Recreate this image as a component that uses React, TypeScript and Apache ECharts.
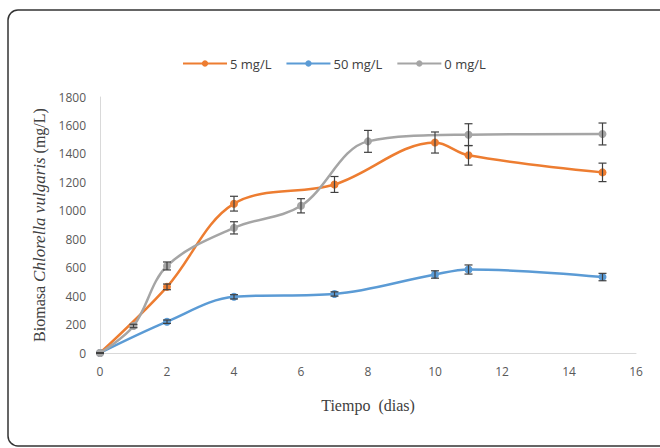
import React, { useEffect, useRef } from "react";
import * as echarts from "echarts";

const seriesNames = ["5 mg/L", "50 mg/L", "0 mg/L"];
const colors = ["#ED7D31", "#5B9BD5", "#A5A5A5"];

const days5 = [0, 2, 4, 7, 10, 11, 15];
const vals5 = [0, 465, 1050, 1185, 1480, 1390, 1270];
const err5 = [0, 20, 52, 56, 74, 69, 65];

const days50 = [0, 2, 4, 7, 10, 11, 15];
const vals50 = [0, 220, 395, 415, 552, 587, 534];
const err50 = [0, 12, 15, 15, 26, 32, 26];

const days0 = [0, 1, 2, 4, 6, 8, 11, 15];
const vals0 = [0, 190, 612, 880, 1035, 1488, 1535, 1540];
const err0 = [0, 12, 28, 43, 50, 77, 77, 77];

const xTicks = [0, 2, 4, 6, 8, 10, 12, 14, 16];
const yTicks = [0, 200, 400, 600, 800, 1000, 1200, 1400, 1600, 1800];

export default function App() {
  const ref = useRef<HTMLDivElement>(null);
  useEffect(() => {
    if (!ref.current) return;
    const chart = echarts.init(ref.current, undefined, { renderer: "svg" });
    const groups = [
      { d: days5, v: vals5, e: err5 },
      { d: days50, v: vals50, e: err50 },
      { d: days0, v: vals0, e: err0 },
    ];
    const lineSeries = groups.map((g, i) => ({
      name: seriesNames[i],
      type: "line",
      smooth: 0.35,
      symbol: "circle",
      symbolSize: 8,
      data: g.d.map((x, k) => [x, g.v[k]]),
      lineStyle: { color: colors[i], width: 2.5 },
      itemStyle: { color: colors[i] },
      z: 3 + i,
    }));
    const errSeries = groups.map((g, i) => ({
      name: seriesNames[i] + " err",
      type: "custom",
      z: 10,
      data: g.d.map((x, k) => [x, g.v[k] - g.e[k], g.v[k] + g.e[k]]),
      renderItem: (params: any, api: any) => {
        const x = api.value(0);
        const lo = api.coord([x, api.value(1)]);
        const hi = api.coord([x, api.value(2)]);
        const w = 4;
        const style = { stroke: "#404040", lineWidth: 1.2 };
        return {
          type: "group",
          children: [
            { type: "line", shape: { x1: lo[0], y1: lo[1], x2: hi[0], y2: hi[1] }, style },
            { type: "line", shape: { x1: lo[0] - w, y1: lo[1], x2: lo[0] + w, y2: lo[1] }, style },
            { type: "line", shape: { x1: hi[0] - w, y1: hi[1], x2: hi[0] + w, y2: hi[1] }, style },
          ],
        };
      },
      silent: true,
    }));
    chart.setOption({
      animation: false,
      backgroundColor: "#ffffff",
      graphic: [
        {
          type: "rect",
          shape: { x: 8, y: 10, width: 664, height: 436, r: 10 },
          style: { fill: "none", stroke: "#333333", lineWidth: 1.5 },
          z: -1,
        },
      ],
      legend: {
        data: seriesNames,
        top: 52,
        left: 177,
        itemWidth: 44,
        itemHeight: 8,
        itemGap: 14,
        textStyle: { fontFamily: "Open Sans", fontSize: 13, color: "#404040", padding: [0, 0, 0, -2] },
      },
      grid: { left: 100, right: 24, top: 97, bottom: 95 },
      xAxis: {
        type: "value",
        min: 0,
        max: 16,
        interval: 2,
        name: "Tiempo  (dias)",
        nameLocation: "middle",
        nameGap: 44,
        nameTextStyle: { fontFamily: "Liberation Serif", fontSize: 16, color: "#404040" },
        axisLine: { show: true, lineStyle: { color: "#D9D9D9", width: 1 } },
        axisTick: { show: false },
        splitLine: { show: false },
        axisLabel: {
          fontFamily: "Open Sans",
          fontSize: 12,
          color: "#595959",
          margin: 12,
          formatter: (v: number) => (xTicks.includes(v) ? String(v) : ""),
        },
      },
      yAxis: {
        type: "value",
        min: 0,
        max: 1800,
        interval: 200,
        name: "{a|Biomasa }{b|Chlorella vulgaris}{a| (mg/L)}",
        nameLocation: "middle",
        nameGap: 52,
        nameTextStyle: {
          rich: {
            a: { fontFamily: "Liberation Serif", fontSize: 16, color: "#404040" },
            b: { fontFamily: "Liberation Serif", fontSize: 17, color: "#404040", fontStyle: "italic" },
          },
        },
        axisLine: { show: true, lineStyle: { color: "#D9D9D9", width: 1 } },
        axisTick: { show: false },
        splitLine: { show: false },
        axisLabel: {
          fontFamily: "Open Sans",
          fontSize: 12,
          color: "#595959",
          margin: 14,
          formatter: (v: number) => (yTicks.includes(v) ? String(v) : ""),
        },
      },
      series: [...lineSeries, ...errSeries],
    });
    return () => chart.dispose();
  }, []);
  return (
    <div
      ref={ref}
      style={{ position: "fixed", left: 0, top: 0, width: 660, height: 448 }}
    />
  );
}
